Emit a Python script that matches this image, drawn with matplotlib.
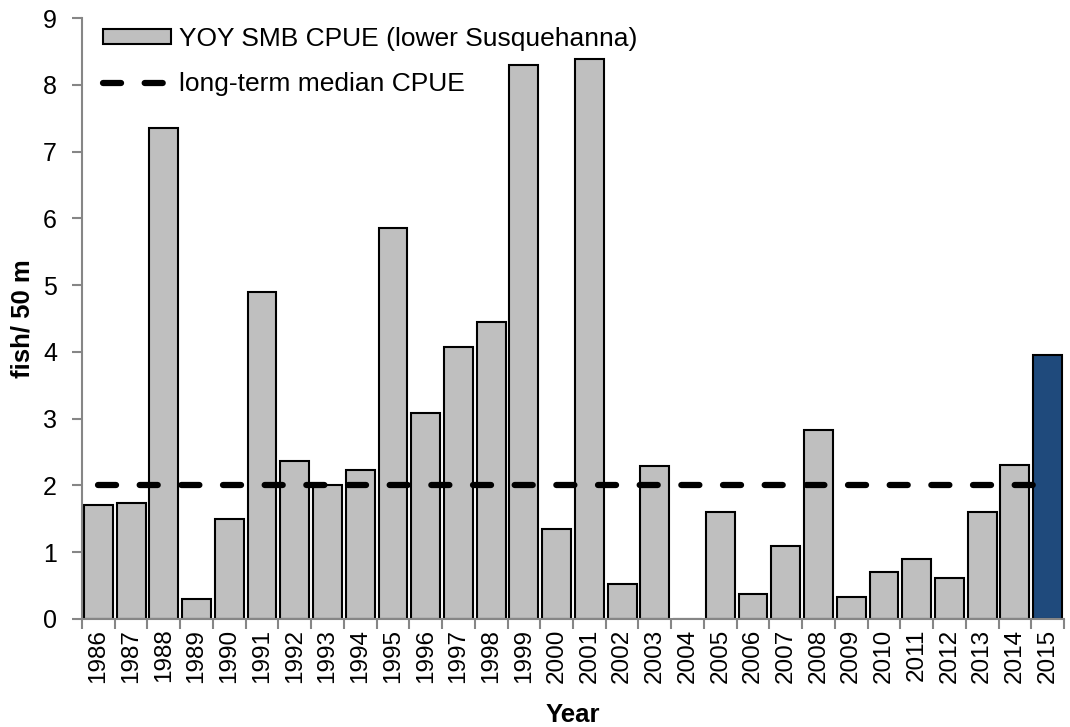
import matplotlib
matplotlib.use("Agg")
import matplotlib.pyplot as plt
import numpy as np

years = ["1986", "1987", "1988", "1989", "1990", "1991", "1992", "1993", "1994", "1995",
         "1996", "1997", "1998", "1999", "2000", "2001", "2002", "2003", "2004", "2005",
         "2006", "2007", "2008", "2009", "2010", "2011", "2012", "2013", "2014", "2015"]
cpue = [1.71, 1.73, 7.36, 0.30, 1.50, 4.89, 2.37, 2.00, 2.23, 5.85,
        3.09, 4.07, 4.45, 8.29, 1.35, 8.38, 0.52, 2.29, 0.00, 1.60,
        0.37, 1.10, 2.83, 0.33, 0.71, 0.90, 0.62, 1.60, 2.30, 3.96]
median_cpue = 2.0
highlight_year = "2015"

plt.rcParams['font.family'] = ['Liberation Sans', 'DejaVu Sans']
plt.rcParams['lines.scale_dashes'] = False

fig = plt.figure(figsize=(10.70, 7.27), dpi=100)
ax = fig.add_axes([82/1070, 1-619/727, (1064-82)/1070, (619-18)/727])

x = np.arange(len(years))
colors = ['#1F4A7C' if y == highlight_year else '#BFBFBF' for y in years]
bars = ax.bar(x, cpue, width=0.88, color=colors, edgecolor='black', linewidth=1.5,
              label='YOY SMB CPUE (lower Susquehanna)', zorder=2)
line, = ax.plot([x[0], x[-1]], [median_cpue, median_cpue], color='black', linewidth=4.5,
                dashes=(13, 17), dash_capstyle='round', label='long-term median CPUE', zorder=3)

ax.set_xlim(-0.5, len(years) - 0.5)
ax.set_ylim(0, 9)
ax.set_yticks(range(0, 10))
ax.set_xticks(x)
ax.set_xticklabels(years, rotation=90, fontsize=17.5)
ax.set_xticks(np.arange(-0.5, len(years)), minor=True)
ax.tick_params(axis='x', which='major', length=0, pad=7)
ax.tick_params(axis='x', which='minor', length=7, color='#868686', width=1.5, direction='out')
ax.tick_params(axis='y', labelsize=18, length=7, color='#868686', width=1.5, pad=11)

for s in ['top', 'right']:
    ax.spines[s].set_visible(False)
for s in ['left', 'bottom']:
    ax.spines[s].set_color('#868686')
    ax.spines[s].set_linewidth(1.5)

ax.set_ylabel('fish/ 50 m', fontsize=18.5, fontweight='bold', labelpad=6)
ax.set_xlabel('Year', fontsize=18.5, fontweight='bold', labelpad=14)

leg = ax.legend([bars, line], ['YOY SMB CPUE (lower Susquehanna)', 'long-term median CPUE'],
                loc='upper left', bbox_to_anchor=(0.021, 0.985), frameon=False, fontsize=19,
                handlelength=2.6, handleheight=0.5, handletextpad=0.3, labelspacing=0.8,
                borderaxespad=0.0, borderpad=0.0)

fig.savefig('out.png', dpi=100)
